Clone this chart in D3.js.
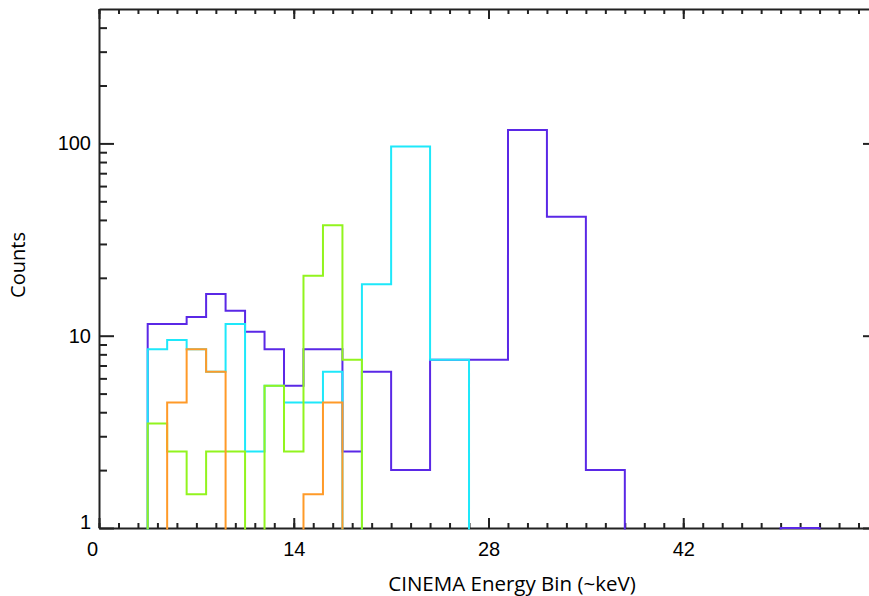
<!DOCTYPE html>
<html>
<head>
<meta charset="utf-8">
<script src="https://cdn.jsdelivr.net/npm/d3@7"></script>
<style>
  body { margin: 0; background: #fff; }
  .tick text { font-family: "Liberation Sans", Arial, sans-serif; font-size: 20px; fill: #000; }
  .axis path, .axis line { stroke: #222; stroke-width: 2; }
</style>
</head>
<body>
<svg id="chart" width="869" height="596"></svg>
<script>
// bin centres (keV), steps are drawn half way between them
var binCenters = [2.8, 4.2, 5.6, 7.0, 8.4, 9.8, 11.2, 12.6, 14.0, 15.4, 16.8, 18.2, 19.6,
                  22.4, 25.2, 28.0, 30.8, 33.6, 36.4, 39.2, 42.0, 44.8, 47.6, 50.4, 53.2];

var countsPurple = [0, 11.5, 11.5, 12.5, 16.5, 13.5, 10.5, 8.5, 5.5, 8.5, 8.5, 2.5, 6.5,
                    2.0, 7.5, 7.5, 117.5, 41.5, 2.0, 0, 0, 0, 0, 1, 0];
var countsCyan   = [0, 8.5, 9.5, 8.5, 6.5, 11.5, 2.5, 5.5, 4.5, 4.5, 6.5, 0, 18.5,
                    96.5, 7.5, 0, 0, 0, 0, 0, 0, 0, 0, 0, 0];
var countsGreen  = [0, 3.5, 2.5, 1.5, 2.5, 2.5, 0, 5.5, 2.5, 20.5, 37.5, 7.5, 0,
                    0, 0, 0, 0, 0, 0, 0, 0, 0, 0, 0, 0];
var countsOrange = [0, 0, 4.5, 8.5, 6.5, 0, 0, 0, 0, 1.5, 4.5, 0, 0,
                    0, 0, 0, 0, 0, 0, 0, 0, 0, 0, 0, 0];

var seriesColors = ['#5a28e6', '#1ee8fa', '#92f41e', '#ff9a28'];

var xTickValues = [0, 14, 28, 42];
var yTickValues = [1, 10, 100];
var yMinorValues = [2, 3, 4, 5, 6, 7, 8, 9, 20, 30, 40, 50, 60, 70, 80, 90, 200, 300, 400];

var xLabel = 'CINEMA Energy Bin (~keV)',
    yLabel = 'Counts';

var svg = d3.select('#chart'),
    plotLeft = 99, plotRight = 878, plotTop = 9, plotBottom = 528;

var x = d3.scaleLinear().domain([0, 56]).range([plotLeft, plotRight]);
var y = d3.scaleLog().domain([1, 500]).range([plotBottom, plotTop]);

var xMinorValues = d3.range(0, 41).map(function(i){ return i * 1.4; });

// minor ticks first, no labels
function minor(axis, pos){
    var g = svg.append('g').attr('class', 'axis').attr('transform', pos).call(axis);
    g.select('.domain').remove();
    return g;
}
minor(d3.axisBottom(x).tickValues(xMinorValues).tickSize(-5).tickFormat(''), 'translate(0,' + plotBottom + ')');
minor(d3.axisTop(x).tickValues(xMinorValues).tickSize(-5).tickFormat(''), 'translate(0,' + plotTop + ')');
minor(d3.axisLeft(y).tickValues(yMinorValues).tickSize(-8).tickFormat(''), 'translate(' + plotLeft + ',0)');
minor(d3.axisRight(y).tickValues(yMinorValues).tickSize(-8).tickFormat(''), 'translate(' + plotRight + ',0)');

// major axes
var gx = svg.append('g').attr('class', 'axis')
    .attr('transform', 'translate(0,' + plotBottom + ')')
    .call(d3.axisBottom(x).tickValues(xTickValues).tickSize(-10).tickSizeOuter(0).tickPadding(14));
gx.selectAll('.tick text').filter(function(d){ return d === 0; }).attr('dx', -7);

svg.append('g').attr('class', 'axis')
    .attr('transform', 'translate(0,' + plotTop + ')')
    .call(d3.axisTop(x).tickValues(xTickValues).tickSize(-10).tickSizeOuter(0).tickFormat(''));

var gy = svg.append('g').attr('class', 'axis')
    .attr('transform', 'translate(' + plotLeft + ',0)')
    .call(d3.axisLeft(y).tickValues(yTickValues).tickSize(-15).tickSizeOuter(0).tickPadding(8).tickFormat(d3.format('d')));
gy.selectAll('.tick text').filter(function(d){ return d === 1; }).attr('dy', 0);

svg.append('g').attr('class', 'axis')
    .attr('transform', 'translate(' + plotRight + ',0)')
    .call(d3.axisRight(y).tickValues(yTickValues).tickSize(-15).tickSizeOuter(0).tickFormat(''));

// histogram steps, zero counts fall off the log axis
svg.append('clipPath').attr('id', 'plot-clip')
    .append('rect')
    .attr('x', plotLeft).attr('y', plotTop - 1)
    .attr('width', plotRight - plotLeft).attr('height', plotBottom - plotTop + 2.5);

var line = d3.line()
    .x(function(d){ return x(d[0]); })
    .y(function(d){ return d[1] > 0 ? y(d[1]) : plotBottom + 60; })
    .curve(d3.curveStep);

var allCounts = [countsPurple, countsCyan, countsGreen, countsOrange];

svg.append('g').attr('clip-path', 'url(#plot-clip)')
    .selectAll('path')
    .data(allCounts)
    .enter().append('path')
    .attr('d', function(c){ return line(d3.zip(binCenters, c)); })
    .attr('fill', 'none')
    .attr('stroke', function(c, i){ return seriesColors[i]; })
    .attr('stroke-width', 2);

// axis titles
svg.append('text')
    .attr('x', 512)
    .attr('y', 591)
    .attr('text-anchor', 'middle')
    .style('font-family', '"Open Sans", sans-serif')
    .style('font-size', '20.5px')
    .text(xLabel);

svg.append('text')
    .attr('transform', 'translate(25,' + 265 + ') rotate(-90)')
    .attr('text-anchor', 'middle')
    .style('font-family', '"Open Sans", sans-serif')
    .style('font-size', '20px')
    .text(yLabel);
</script>
</body>
</html>
